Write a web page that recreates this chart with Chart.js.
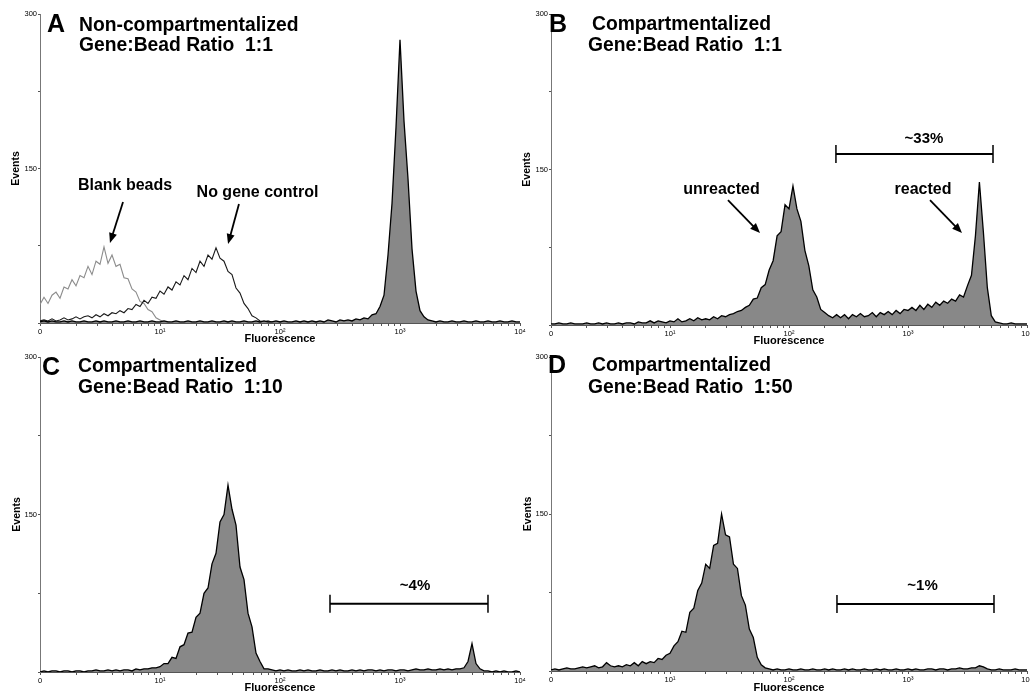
<!DOCTYPE html>
<html>
<head>
<meta charset="utf-8">
<script src="https://cdn.jsdelivr.net/npm/chart.js@4.4.1/dist/chart.umd.min.js"></script>
<style>
    html, body { margin: 0; padding: 0; background: #fff; width: 1030px; height: 696px; overflow: hidden; }
    .panel { position: absolute; }
</style>
</head>
<body>
<div class="panel" style="left:0;top:0"><canvas id="chartA" width="545" height="350" style="width:545px;height:350px"></canvas></div>
<div class="panel" style="left:510px;top:0"><canvas id="chartB" width="530" height="350" style="width:530px;height:350px"></canvas></div>
<div class="panel" style="left:0;top:340px"><canvas id="chartC" width="545" height="356" style="width:545px;height:356px"></canvas></div>
<div class="panel" style="left:510px;top:340px"><canvas id="chartD" width="530" height="356" style="width:530px;height:356px"></canvas></div>
<script>
// histogram channels: 30 per decade, channel 0 = 10^0, channel 120 = 10^4
const channelsPerDecade = 30;
const decadeTicks = [1, 10, 100, 1000, 10000];
const decadeLabels = ['0', '10¹', '10²', '10³', '10⁴'];
const eventTicks = [0, 75, 150, 225, 300];
const eventLabels = ['', '', '150', '', '300'];

// A - non-compartmentalized, 1:1
const aSample = [
    1, 2, 1, 2, 1, 1, 2, 1, 2, 1,
    1, 2, 1, 1, 2, 1, 2, 1, 1, 2,
    1, 1, 2, 1, 1, 2, 1, 1, 2, 1,
    1, 2, 1, 1, 2, 1, 1, 2, 1, 1,
    2, 1, 1, 2, 1, 1, 2, 1, 2, 1,
    1, 2, 1, 1, 2, 1, 2, 1, 1, 2,
    1, 2, 1, 1, 2, 1, 2, 1, 2, 1,
    2, 1, 3, 2, 1, 3, 2, 3, 2, 4,
    3, 5, 4, 8, 9, 16, 27, 66, 116, 190,
    275, 196, 140, 72, 31, 12, 6, 3, 2, 1,
    2, 1, 1, 2, 1, 1, 2, 1, 1, 2,
    1, 1, 2, 1, 1, 2, 1, 1, 2, 1, 1
];
const aBlankBeads = [
    18, 25, 19, 27, 30, 24, 35, 33, 42, 36,
    46, 44, 55, 47, 60, 57, 74, 58, 66, 55,
    57, 44, 43, 33, 30, 21, 19, 13, 11, 5,
    3, 1, 1, 0, 0, 0
];
const aNoGene = [
    2, 3, 2, 4, 2, 3, 5, 3, 4, 6,
    4, 6, 7, 5, 8, 6, 9, 7, 10, 9,
    12, 10, 14, 13, 18, 16, 22, 19, 25, 24,
    31, 28, 35, 32, 40, 37, 46, 42, 53, 49,
    60, 55, 66, 62, 73, 63, 60, 50, 47, 34,
    29, 19, 14, 7, 5, 2, 1, 2, 1, 1,
    1
];

// B - compartmentalized, 1:1
const bSample = [
    1, 1, 2, 1, 1, 2, 1, 1, 1, 2,
    1, 1, 2, 1, 2, 1, 1, 2, 1, 2,
    2, 1, 3, 2, 2, 4, 2, 4, 3, 2,
    4, 3, 6, 3, 4, 6, 4, 7, 5, 6,
    5, 8, 6, 9, 8, 10, 11, 13, 14, 17,
    19, 25, 26, 36, 39, 53, 62, 86, 90, 116,
    112, 134, 112, 100, 72, 57, 34, 27, 15, 12,
    9, 7, 10, 7, 10, 6, 10, 8, 11, 8,
    9, 12, 8, 12, 10, 13, 10, 14, 11, 15,
    14, 17, 14, 19, 15, 20, 17, 22, 19, 23,
    21, 25, 23, 29, 27, 38, 48, 86, 138, 90,
    36, 9, 3, 2, 1, 1, 2, 1, 1, 1, 1
];

// C - compartmentalized, 1:10
const cSample = [
    0, 1, 0, 1, 1, 0, 1, 1, 0, 1,
    1, 0, 1, 1, 2, 1, 1, 2, 1, 2,
    1, 2, 2, 1, 3, 2, 3, 3, 4, 4,
    5, 8, 8, 14, 13, 24, 26, 37, 38, 52,
    56, 75, 80, 103, 113, 143, 150, 178, 155, 140,
    100, 88, 56, 43, 18, 10, 3, 3, 2, 1,
    2, 1, 2, 1, 1, 2, 1, 2, 1, 1,
    2, 1, 1, 2, 1, 2, 1, 1, 2, 1,
    2, 1, 2, 2, 1, 2, 1, 2, 2, 1,
    2, 2, 1, 2, 3, 2, 2, 3, 2, 2,
    3, 2, 3, 2, 3, 3, 4, 10, 27, 8,
    3, 1, 1, 0, 1, 0, 1, 0, 0, 1, 0
];

// D - compartmentalized, 1:50
const dSample = [
    1, 2, 1, 2, 3, 2, 2, 3, 4, 3,
    4, 5, 3, 4, 8, 5, 4, 5, 4, 6,
    5, 8, 5, 9, 7, 9, 8, 12, 11, 15,
    17, 24, 28, 38, 37, 56, 60, 77, 84, 102,
    98, 120, 122, 150, 130, 128, 102, 98, 72, 63,
    40, 32, 13, 6, 3, 2, 1, 2, 1, 1,
    2, 1, 1, 2, 1, 1, 2, 1, 1, 2,
    1, 2, 1, 1, 2, 1, 2, 1, 1, 2,
    1, 1, 2, 1, 2, 1, 1, 2, 1, 1,
    2, 1, 2, 1, 1, 2, 2, 1, 2, 2,
    1, 2, 2, 3, 2, 2, 3, 3, 5, 4,
    2, 1, 1, 2, 1, 1, 1, 2, 1, 1, 1
];

// marker gates: [from, to] fluorescence, drawn at an events level
const gateB = [248, 5180, 165];
const gateC = [261, 5410, 65];
const gateD = [253, 5280, 64];

const family = '"Liberation Sans", Arial, Helvetica, sans-serif';

let logTicks = [];
for (let e = 0; e < 4; e++) {
    for (let k = 1; k < 10; k++) logTicks.push(k * Math.pow(10, e));
}
logTicks.push(10000);

function toPoints(counts) {
    return counts.map((v, i) => ({ x: Math.pow(10, i / channelsPerDecade), y: v }));
}

function filled(counts) {
    return { data: toPoints(counts), fill: 'origin', backgroundColor: '#888888', borderColor: '#000', borderWidth: 1.3 };
}

function outline(counts, color) {
    return { data: toPoints(counts), fill: false, borderColor: color, borderWidth: 1.1 };
}

const marksPlugin = {
    id: 'marks',
    afterDatasetsDraw(chart, args, opts) {
        const ctx = chart.ctx;
        const area = chart.chartArea;
        const xs = chart.scales.x, ys = chart.scales.y;
        ctx.save();
        ctx.fillStyle = '#000';
        ctx.strokeStyle = '#000';
        ctx.textBaseline = 'alphabetic';

        (opts.headers || []).forEach(h => {
            ctx.font = 'bold ' + h.size + 'px ' + family;
            ctx.textAlign = 'left';
            ctx.fillText(h.text, area.left + h.dx, area.top + h.dy);
        });

        (opts.labels || []).forEach(l => {
            ctx.font = 'bold ' + l.size + 'px ' + family;
            ctx.textAlign = 'center';
            ctx.fillText(l.text, xs.getPixelForValue(l.at[0]), ys.getPixelForValue(l.at[1]));
        });

        (opts.arrows || []).forEach(a => {
            const x1 = xs.getPixelForValue(a.from[0]), y1 = ys.getPixelForValue(a.from[1]);
            const x2 = xs.getPixelForValue(a.to[0]), y2 = ys.getPixelForValue(a.to[1]);
            const ang = Math.atan2(y2 - y1, x2 - x1);
            const c = Math.cos(ang), s = Math.sin(ang);
            ctx.lineWidth = 1.8;
            ctx.beginPath();
            ctx.moveTo(x1, y1);
            ctx.lineTo(x2 - 7 * c, y2 - 7 * s);
            ctx.stroke();
            ctx.beginPath();
            ctx.moveTo(x2, y2);
            ctx.lineTo(x2 - 10 * c + 4 * s, y2 - 10 * s - 4 * c);
            ctx.lineTo(x2 - 10 * c - 4 * s, y2 - 10 * s + 4 * c);
            ctx.closePath();
            ctx.fill();
        });

        if (opts.gate) {
            const g = opts.gate;
            const x1 = xs.getPixelForValue(g[0]), x2 = xs.getPixelForValue(g[1]), yy = ys.getPixelForValue(g[2]);
            ctx.lineWidth = 2;
            ctx.beginPath();
            ctx.moveTo(x1, yy);
            ctx.lineTo(x2, yy);
            ctx.stroke();
            ctx.lineWidth = 1.5;
            ctx.beginPath();
            ctx.moveTo(x1, yy - 9);
            ctx.lineTo(x1, yy + 9);
            ctx.moveTo(x2, yy - 9);
            ctx.lineTo(x2, yy + 9);
            ctx.stroke();
        }
        ctx.restore();
    }
};

function makeChart(id, datasets, box, marks) {
    return new Chart(document.getElementById(id), {
        type: 'line',
        data: { datasets: datasets },
        options: {
            responsive: false,
            animation: false,
            devicePixelRatio: 1,
            layout: { padding: { left: 0, top: box.top, right: box.right, bottom: 0 } },
            elements: { point: { radius: 0 }, line: { tension: 0 } },
            plugins: { legend: { display: false }, tooltip: { enabled: false }, marks: marks },
            scales: {
                x: {
                    type: 'logarithmic',
                    min: 1,
                    max: 10000,
                    afterFit: s => { s.height = box.xHeight; },
                    afterBuildTicks: s => { s.ticks = logTicks.map(v => ({ value: v })); },
                    grid: { drawOnChartArea: false, tickLength: 3, color: '#555' },
                    border: { color: '#555', width: 1 },
                    ticks: {
                        autoSkip: false, maxRotation: 0, padding: 1, color: '#000',
                        font: { family: family, size: 7.5 },
                        callback: v => {
                            const i = decadeTicks.indexOf(v);
                            return i >= 0 ? decadeLabels[i] : '';
                        }
                    },
                    title: {
                        display: true, text: 'Fluorescence', color: '#000',
                        font: { family: family, size: 11, weight: 'bold' },
                        padding: { top: 0, bottom: box.xTitlePad }
                    }
                },
                y: {
                    min: 0,
                    max: 300,
                    afterFit: s => { s.width = box.yWidth; },
                    afterBuildTicks: s => { s.ticks = eventTicks.map(v => ({ value: v })); },
                    grid: { drawOnChartArea: false, tickLength: 2, color: '#555' },
                    border: { color: '#777', width: 1 },
                    ticks: {
                        padding: 1, color: '#000',
                        font: { family: family, size: 7.5 },
                        callback: v => eventLabels[eventTicks.indexOf(v)]
                    },
                    title: {
                        display: true, text: 'Events', color: '#000',
                        font: { family: family, size: 10.5, weight: 'bold' },
                        padding: { top: box.yTitlePad, bottom: 0 }
                    }
                }
            }
        },
        plugins: [marksPlugin]
    });
}

function headers(letter, line1, line2, pos) {
    return [
        { text: letter, size: 25, dx: pos[0], dy: pos[1] },
        { text: line1, size: 19.3, dx: pos[2], dy: pos[3] },
        { text: line2, size: 19.3, dx: pos[4], dy: pos[5] }
    ];
}

makeChart('chartA',
    [filled(aSample), outline(aNoGene, '#1a1a1a'), outline(aBlankBeads, '#8c8c8c')],
    { top: 14, right: 25, xHeight: 27, xTitlePad: 4.4, yWidth: 40, yTitlePad: 9.7 },
    {
        headers: headers('A', 'Non-compartmentalized', 'Gene:Bead Ratio  1:1', [7, 18, 39, 17, 39, 37]),
        labels: [
            { text: 'Blank beads', size: 16, at: [5.11, 129] },
            { text: 'No gene control', size: 16, at: [64.9, 122.8] }
        ],
        arrows: [
            { from: [4.92, 117.5], to: [3.83, 77.7] },
            { from: [45.5, 115.5], to: [36.9, 76.7] }
        ]
    });

makeChart('chartB',
    [filled(bSample)],
    { top: 14, right: 13, xHeight: 25, xTitlePad: 2.4, yWidth: 41, yTitlePad: 10.7 },
    {
        headers: headers('B', 'Compartmentalized', 'Gene:Bead Ratio  1:1', [-2, 18, 41, 16, 37, 37]),
        labels: [
            { text: 'unreacted', size: 16, at: [27.1, 126.3] },
            { text: 'reacted', size: 16, at: [1336, 126.3] },
            { text: '~33%', size: 15, at: [1362, 175.5] }
        ],
        arrows: [
            { from: [30.7, 120.5], to: [57.1, 88.7] },
            { from: [1531, 120.5], to: [2843, 88.7] }
        ],
        gate: gateB
    });

makeChart('chartC',
    [filled(cSample)],
    { top: 17, right: 25, xHeight: 24, xTitlePad: 1.4, yWidth: 40, yTitlePad: 11 },
    {
        headers: headers('C', 'Compartmentalized', 'Gene:Bead Ratio  1:10', [2, 18, 38, 15, 38, 36]),
        labels: [{ text: '~4%', size: 15, at: [1334, 78] }],
        gate: gateC
    });

makeChart('chartD',
    [filled(dSample)],
    { top: 17, right: 13, xHeight: 25, xTitlePad: 1.4, yWidth: 41, yTitlePad: 12 },
    {
        headers: headers('D', 'Compartmentalized', 'Gene:Bead Ratio  1:50', [-3, 16, 41, 14, 37, 36]),
        labels: [{ text: '~1%', size: 15, at: [1324, 77.4] }],
        gate: gateD
    });
</script>
</body>
</html>
